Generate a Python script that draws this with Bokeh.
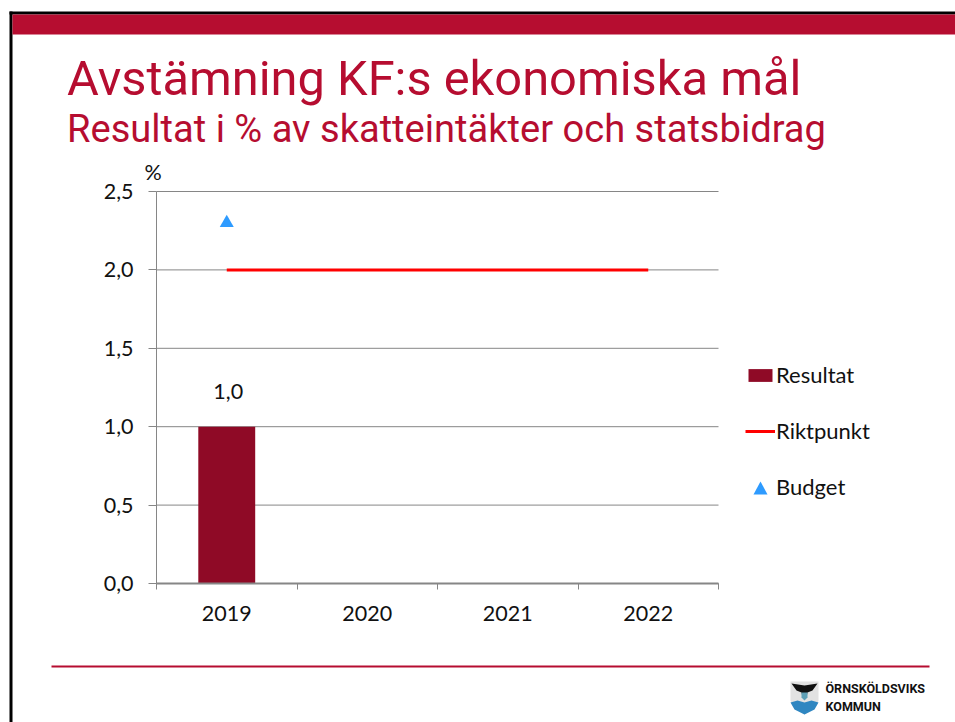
from bokeh.plotting import figure
from bokeh.embed import file_html
from bokeh.resources import INLINE
from bokeh.models import (Range1d, FixedTicker, Label, BoxAnnotation, PolyAnnotation,
                          Legend, LegendItem)

categories = ["2019", "2020", "2021", "2022"]
resultat_years = ["2019"]
resultat = [1.0]
riktpunkt = [2.0, 2.0, 2.0, 2.0]
budget_years = ["2019"]
budget = [2.3]
y_ticks = [0.0, 0.5, 1.0, 1.5, 2.0, 2.5]
title = "Avstämning KF:s ekonomiska mål"
subtitle = "Resultat i % av skatteintäkter och statsbidrag"

CRIMSON = "#B60D30"
GRID = "#868686"
FONT = "Lato"
W, H = 955, 722
# plot rectangle in page pixels
L, R, T, B = 156, 718, 191, 583
ux = (R - L) / len(categories)
uy = (B - T) / y_ticks[-1]


def pos(cat):
    return categories.index(cat) + 0.5


p = figure(width=W, height=H, output_backend="svg", toolbar_location=None,
           x_range=Range1d(-L / ux, (W - L) / ux),
           y_range=Range1d((B - H) / uy, B / uy),
           min_border=0)
p.outline_line_color = None
p.background_fill_color = "white"

p.xgrid.visible = False
p.ygrid.visible = False
p.segment(x0=[0] * len(y_ticks), x1=[len(categories)] * len(y_ticks), y0=y_ticks, y1=y_ticks,
          line_color=GRID, line_width=1)

xa = p.xaxis[0]
xa.fixed_location = 0
xa.bounds = (0, len(categories))
xa.ticker = FixedTicker(ticks=[i + 0.5 for i in range(len(categories))],
                        minor_ticks=list(range(len(categories) + 1)))
xa.major_label_overrides = {i + 0.5: c for i, c in enumerate(categories)}
xa.major_tick_line_color = None
xa.major_tick_in = 0
xa.major_tick_out = 6
xa.minor_tick_line_color = GRID
xa.minor_tick_in = 0
xa.minor_tick_out = 6
xa.axis_line_color = GRID
xa.axis_line_width = 2
xa.major_label_standoff = 16
xa.major_label_text_font = FONT
xa.major_label_text_font_size = "21.5px"
xa.major_label_text_color = "#111111"

ya = p.yaxis[0]
ya.fixed_location = 0
ya.bounds = (0, y_ticks[-1])
ya.ticker = FixedTicker(ticks=y_ticks)
ya.major_label_overrides = {v: f"{v:.1f}".replace(".", ",") for v in y_ticks}
ya.minor_tick_line_color = None
ya.major_tick_line_color = GRID
ya.major_tick_in = 0
ya.major_tick_out = 8
ya.axis_line_color = GRID
ya.axis_line_width = 1
ya.major_label_standoff = 15
ya.major_label_text_font = FONT
ya.major_label_text_font_size = "21.5px"
ya.major_label_text_color = "#111111"

bar = p.vbar(x=[pos(c) for c in resultat_years], top=resultat, bottom=0, width=0.405,
             fill_color="#8F0A26", line_color=None)
line = p.line(x=[pos(c) for c in categories], y=riktpunkt, line_color="#FF0000", line_width=3)
tri = p.scatter(x=[pos(c) for c in budget_years], y=budget, marker="triangle", size=14,
                fill_color="#2E9BFF", line_color=None)

p.add_layout(Label(x=pos("2019"), y=resultat[0], text="1,0", text_font=FONT, text_font_size="21.5px",
                   text_color="#111111", text_align="center", text_baseline="middle",
                   x_offset=1.5, y_offset=35))

legend = Legend(items=[LegendItem(label="Resultat", renderers=[bar]),
                       LegendItem(label="Riktpunkt", renderers=[line]),
                       LegendItem(label="Budget", renderers=[tri])],
                location=(745, H - 500), spacing=29, glyph_width=30, glyph_height=16, padding=0,
                margin=0, border_line_color=None, background_fill_alpha=0,
                label_text_font=FONT, label_text_font_size="22px", label_text_color="#111111",
                label_standoff=1, label_height=20)
p.add_layout(legend, "center")


def box(l, t, r, b, c):
    p.add_layout(BoxAnnotation(left=l, right=r, top=H - t, bottom=H - b,
                               left_units="screen", right_units="screen",
                               top_units="screen", bottom_units="screen",
                               fill_color=c, fill_alpha=1, line_color=None, level="overlay"))


def poly(pts, c):
    p.add_layout(PolyAnnotation(xs=[a for a, _ in pts], ys=[H - b for _, b in pts],
                                xs_units="screen", ys_units="screen",
                                fill_color=c, fill_alpha=1, line_color=None, level="overlay"))


def text(x, y, s, size, color, font=FONT, style="normal"):
    lift = 0.38 * size  # Label's alphabetic baseline sits this far below its anchor
    p.add_layout(Label(x=x, y=H - y + lift, x_units="screen", y_units="screen", text=s,
                       text_font=font, text_font_size=f"{size}px", text_color=color,
                       text_font_style=style, text_baseline="alphabetic"))


# slide frame
box(9, 11, 12, H, "#000000")
box(9, 11, W, 14, "#000000")
box(12, 14, W, 34, CRIMSON)
box(51, 665, 929, 667, CRIMSON)

text(66.5, 97, title, 48.8, CRIMSON, "Roboto")
text(66.5, 143, subtitle, 38.1, CRIMSON, "Roboto")
text(144, 180, "%", 21.5, "#111111")

# legend triangle at the size of the reference
poly([(753, 494), (767, 494), (760, 481)], "#2E9BFF")

# municipal logo
poly([(790, 681), (818, 681), (818, 700), (814, 708), (804, 714), (794, 708), (790, 700)], "#E2E2E2")
poly([(790, 702), (797, 700), (804, 702), (811, 700), (818, 702), (814, 709), (804, 714), (794, 709)], "#2F86C1")
poly([(791, 683), (804, 685), (817, 683), (812, 690), (807, 692), (806, 697), (802, 697), (801, 692), (796, 690)], "#111111")
poly([(801, 692), (807, 692), (807, 697), (804, 700), (801, 697)], "#5E9FB5")
text(825, 693, "ÖRNSKÖLDSVIKS", 12.5, "#111111", "Roboto", "bold")
text(825, 711, "KOMMUN", 12.5, "#111111", "Roboto", "bold")

open("out.html", "w").write(file_html(p, INLINE))
